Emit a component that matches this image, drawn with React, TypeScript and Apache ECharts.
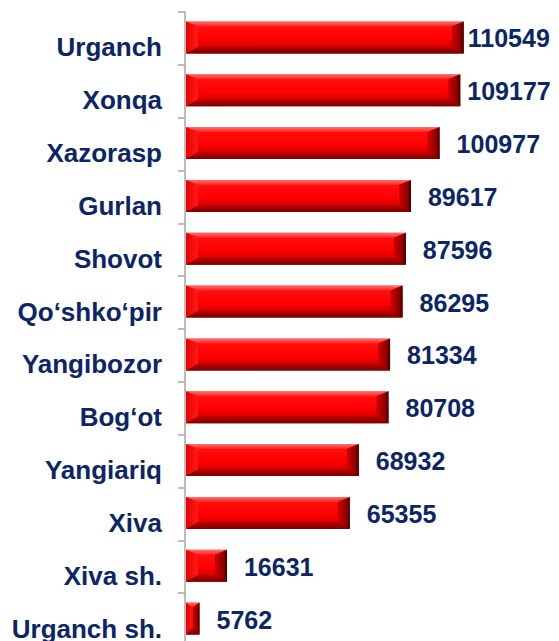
import React, { useEffect, useRef } from "react";
import * as echarts from "echarts";

const categories: string[] = [
  "Urganch",
  "Xonqa",
  "Xazorasp",
  "Gurlan",
  "Shovot",
  "Qo‘shko‘pir",
  "Yangibozor",
  "Bog‘ot",
  "Yangiariq",
  "Xiva",
  "Xiva sh.",
  "Urganch sh.",
];
const values: number[] = [
  110549, 109177, 100977, 89617, 87596, 86295, 81334, 80708, 68932, 65355, 16631, 5762,
];
// label distance overrides (px) for labels pushed back to fit in the frame
const labelDistances: number[] = [4, 7, 17, 17, 17, 17, 17, 17, 17, 17, 17, 17];

const NAVY = "#0b2566";
const FONT = "'Liberation Sans', Arial, sans-serif";

export default function App() {
  const ref = useRef<HTMLDivElement>(null);
  useEffect(() => {
    if (!ref.current) return;
    const chart = echarts.init(ref.current, undefined, { renderer: "svg" });
    const BAR_H = 32;
    const option: any = {
      animation: false,
      backgroundColor: "#ffffff",
      grid: { left: 185, right: 21, top: 12, bottom: 14, containLabel: false },
      xAxis: { type: "value", min: 0, max: 140000, show: false, splitLine: { show: false } },
      yAxis: {
        type: "category",
        inverse: true,
        data: categories,
        axisLine: { show: true, lineStyle: { color: "#a6a6a6", width: 1.5 } },
        axisTick: { show: true, length: 7, lineStyle: { color: "#a6a6a6", width: 1.5 } },
        axisLabel: {
          color: NAVY,
          fontWeight: "bold",
          fontSize: 26,
          fontFamily: FONT,
          margin: 23,
          verticalAlign: "top",
          lineHeight: 18,
        },
      },
      series: [
        {
          type: "bar",
          data: values.map((v, i) => ({
            value: v,
            label: { distance: labelDistances[i] },
          })),
          barWidth: BAR_H,
          itemStyle: { color: "rgba(0,0,0,0)" },
          label: {
            show: true,
            position: "right",
            color: NAVY,
            fontWeight: "bold",
            fontSize: 25,
            fontFamily: FONT,
          },
          z: 5,
        },
        {
          type: "custom",
          data: values.map((v, i) => [v, i]),
          encode: { x: 0, y: 1 },
          z: 3,
          renderItem: (params: any, api: any) => {
            const v = api.value(0);
            const idx = api.value(1);
            const end = api.coord([v, idx]);
            const start = api.coord([0, idx]);
            const x0 = start[0] + 1;
            const x1 = end[0];
            const yc = end[1] - 1;
            const h = BAR_H;
            const y0 = yc - h / 2;
            const y1 = yc + h / 2;
            const w = x1 - x0;
            const b = Math.min(12, w / 2);
            const bt = 5;
            const bb = 7;
            return {
              type: "group",
              children: [
                {
                  type: "rect",
                  shape: { x: x0, y: y0, width: w, height: h },
                  style: {
                    fill: {
                      type: "linear",
                      x: 0, y: 0, x2: 0, y2: 1,
                      colorStops: [
                        { offset: 0, color: "#ff5a5a" },
                        { offset: 0.08, color: "#ff1010" },
                        { offset: 0.55, color: "#ff0000" },
                        { offset: 0.8, color: "#d80000" },
                        { offset: 1, color: "#8a0000" },
                      ],
                    },
                  },
                },
                {
                  type: "polygon",
                  shape: { points: [[x0, y0], [x1, y0], [x1 - b, y0 + bt], [x0 + b, y0 + bt]] },
                  style: {
                    fill: {
                      type: "linear", x: 0, y: 0, x2: 0, y2: 1,
                      colorStops: [
                        { offset: 0, color: "#ff7070" },
                        { offset: 1, color: "#ff2020" },
                      ],
                    },
                  },
                },
                {
                  type: "polygon",
                  shape: { points: [[x0, y1], [x1, y1], [x1 - b, y1 - bb], [x0 + b, y1 - bb]] },
                  style: {
                    fill: {
                      type: "linear", x: 0, y: 0, x2: 0, y2: 1,
                      colorStops: [
                        { offset: 0, color: "#c00000" },
                        { offset: 1, color: "#7a0000" },
                      ],
                    },
                  },
                },
                {
                  type: "polygon",
                  shape: { points: [[x0, y0], [x0 + b, y0 + bt], [x0 + b, y1 - bb], [x0, y1]] },
                  style: {
                    fill: {
                      type: "linear", x: 0, y: 0, x2: 1, y2: 0,
                      colorStops: [
                        { offset: 0, color: "#e80000" },
                        { offset: 1, color: "#ff1a1a" },
                      ],
                    },
                  },
                },
                {
                  type: "polygon",
                  shape: { points: [[x1, y0], [x1 - b, y0 + bt], [x1 - b, y1 - bb], [x1, y1]] },
                  style: {
                    fill: {
                      type: "linear", x: 0, y: 0, x2: 1, y2: 0,
                      colorStops: [
                        { offset: 0, color: "#d00000" },
                        { offset: 0.7, color: "#900000" },
                        { offset: 1, color: "#3a0000" },
                      ],
                    },
                  },
                },
              ],
            };
          },
        },
      ],
    };
    chart.setOption(option);
    return () => chart.dispose();
  }, []);
  return (
    <div
      ref={ref}
      style={{ position: "fixed", left: 0, top: 0, width: 559, height: 660, background: "#fff" }}
    />
  );
}
